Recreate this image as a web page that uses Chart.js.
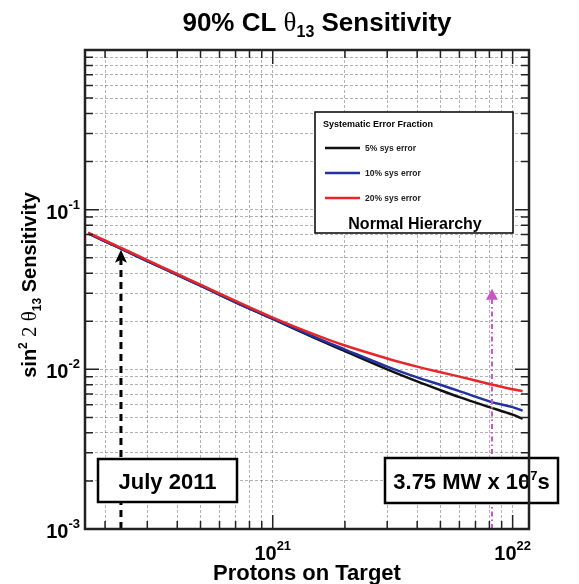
<!DOCTYPE html>
<html>
<head>
<meta charset="utf-8">
<script src="https://cdn.jsdelivr.net/npm/chart.js@4.4.0/dist/chart.umd.min.js"></script>
<style>
  html, body { margin: 0; padding: 0; background: #fff; }
</style>
</head>
<body>
<canvas id="sensChart" width="579" height="584"></canvas>
<script>
// protons on target (x) and 90% CL sin^2 2theta13 sensitivity for each systematic error
const pot = [1.7e20, 2e20, 2.5e20, 3e20, 4e20, 5e20, 7e20, 1e21, 1.5e21, 2e21, 3e21, 4e21, 5e21, 6e21, 8e21, 1e22, 1.1e22];
const sens5 = [0.0710, 0.0634, 0.0542, 0.0477, 0.0390, 0.0334, 0.0263, 0.0207, 0.0157, 0.0130, 0.0100, 0.0084, 0.0074, 0.0067, 0.0058, 0.0052, 0.0049];
const sens10 = [0.0710, 0.0634, 0.0542, 0.0477, 0.0390, 0.0334, 0.0263, 0.0208, 0.0159, 0.0133, 0.0104, 0.0089, 0.0080, 0.0073, 0.0063, 0.0058, 0.0055];
const sens20 = [0.0718, 0.0641, 0.0549, 0.0483, 0.0396, 0.0339, 0.0268, 0.0211, 0.0165, 0.0141, 0.0117, 0.0104, 0.0096, 0.0090, 0.0081, 0.0075, 0.0073];

const seriesNames = ['5% sys error', '10% sys error', '20% sys error'];
const seriesColors = ['#111111', '#2233a0', '#e8262a'];

// axis ranges and labelled decades
const xMin = 1.65e20, xMax = 1.17e22;
const yMin = 1e-3, yMax = 1;
const xDecades = [1e20, 1e21, 1e22];
const yDecades = [1e-3, 1e-2, 1e-1];
const mantissas = [1, 2, 3, 4, 5, 6, 7, 8, 9];
const xLabelValues = [1e21, 1e22];
const xLabelExps = ['21', '22'];
const yLabelValues = [1e-3, 1e-2, 1e-1];
const yLabelExps = ['-3', '-2', '-1'];

// markers: data so far and the full run
const julyPot = 2.33e20, julyTip = 0.056;
const fullPot = 8.2e21, fullTip = 0.032;

function gridValues(decades, lo, hi) {
  const out = [];
  decades.forEach(d => mantissas.forEach(m => {
    const v = m * d;
    if (v >= lo * 0.999 && v <= hi * 1.001) out.push(v);
  }));
  return out;
}
const xGrid = gridValues(xDecades, xMin, xMax);
const yGrid = gridValues(yDecades.concat([1]), yMin, yMax);

function isMajor(v) {
  const e = Math.log10(v);
  return Math.abs(e - Math.round(e)) < 1e-6;
}

const BOLD = 'Liberation Sans, Arial, sans-serif';
const SERIF = 'Liberation Serif, Times New Roman, serif';

// draws a run of [text, font, dy] pieces starting at x, returns end x
function drawRun(ctx, pieces, x, y) {
  pieces.forEach(p => {
    ctx.font = p[1];
    ctx.fillText(p[0], x, y + (p[2] || 0));
    x += ctx.measureText(p[0]).width;
  });
  return x;
}
function runWidth(ctx, pieces) {
  let w = 0;
  pieces.forEach(p => { ctx.font = p[1]; w += ctx.measureText(p[0]).width; });
  return w;
}

const decorations = {
  id: 'decorations',
  afterDatasetsDraw(chart) {
    const { ctx, chartArea: a, scales: { x, y } } = chart;
    ctx.save();

    // July 2011 arrow (black dashed)
    const jx = x.getPixelForValue(julyPot);
    const jt = y.getPixelForValue(julyTip);
    ctx.strokeStyle = '#000';
    ctx.lineWidth = 3;
    ctx.setLineDash([7, 5]);
    ctx.beginPath();
    ctx.moveTo(jx, a.bottom);
    ctx.lineTo(jx, jt + 10);
    ctx.stroke();
    ctx.setLineDash([]);
    ctx.fillStyle = '#000';
    ctx.beginPath();
    ctx.moveTo(jx, jt);
    ctx.lineTo(jx + 6, jt + 13);
    ctx.lineTo(jx, jt + 10);
    ctx.lineTo(jx - 6, jt + 13);
    ctx.closePath();
    ctx.fill();

    // full exposure arrow (magenta dash-dot)
    const fx = x.getPixelForValue(fullPot);
    const ft = y.getPixelForValue(fullTip);
    ctx.strokeStyle = '#c955c9';
    ctx.fillStyle = '#c955c9';
    ctx.lineWidth = 2;
    ctx.setLineDash([5, 3, 1.5, 3]);
    ctx.beginPath();
    ctx.moveTo(fx, a.bottom);
    ctx.lineTo(fx, ft + 10);
    ctx.stroke();
    ctx.setLineDash([]);
    ctx.beginPath();
    ctx.moveTo(fx, ft);
    ctx.lineTo(fx + 6, ft + 11);
    ctx.lineTo(fx - 6, ft + 11);
    ctx.closePath();
    ctx.fill();

    // text boxes
    ctx.fillStyle = '#fff';
    ctx.strokeStyle = '#000';
    ctx.lineWidth = 2.5;
    ctx.fillRect(98, 459, 139, 43);
    ctx.strokeRect(98, 459, 139, 43);
    ctx.fillRect(385, 458, 173, 45);
    ctx.strokeRect(385, 458, 173, 45);
    ctx.fillStyle = '#000';
    ctx.textBaseline = 'alphabetic';
    ctx.textAlign = 'left';
    let pcs = [['July 2011', 'bold 22px ' + BOLD]];
    drawRun(ctx, pcs, 167.5 - runWidth(ctx, pcs) / 2, 489);
    pcs = [['3.75 MW x 10', 'bold 22px ' + BOLD], ['7', 'bold 13px ' + BOLD, -9], ['s', 'bold 22px ' + BOLD]];
    drawRun(ctx, pcs, 471.5 - runWidth(ctx, pcs) / 2, 489);

    // legend
    ctx.fillStyle = '#fff';
    ctx.lineWidth = 1.5;
    ctx.fillRect(315, 112, 198, 121);
    ctx.strokeRect(315, 112, 198, 121);
    ctx.fillStyle = '#000';
    ctx.font = 'bold 9px ' + BOLD;
    ctx.fillText('Systematic Error Fraction', 323, 127);
    const rows = [148, 173, 198];
    seriesNames.forEach((name, i) => {
      ctx.strokeStyle = seriesColors[i];
      ctx.lineWidth = 2.5;
      ctx.beginPath();
      ctx.moveTo(325, rows[i]);
      ctx.lineTo(360, rows[i]);
      ctx.stroke();
      ctx.fillStyle = '#222';
      ctx.font = 'bold 8.5px ' + BOLD;
      ctx.fillText(name, 365, rows[i] + 3);
    });
    ctx.fillStyle = '#000';
    ctx.font = 'bold 16px ' + BOLD;
    ctx.textAlign = 'center';
    ctx.fillText('Normal Hierarchy', 415, 229);
    ctx.textAlign = 'left';

    // frame and inward ticks on all four sides
    ctx.strokeStyle = '#222';
    ctx.lineWidth = 1.5;
    xGrid.forEach(v => {
      const px = x.getPixelForValue(v);
      const len = isMajor(v) ? 14 : 8;
      ctx.beginPath();
      ctx.moveTo(px, a.bottom); ctx.lineTo(px, a.bottom - len);
      ctx.moveTo(px, a.top); ctx.lineTo(px, a.top + len);
      ctx.stroke();
    });
    yGrid.forEach(v => {
      const py = y.getPixelForValue(v);
      const len = isMajor(v) ? 14 : 8;
      ctx.beginPath();
      ctx.moveTo(a.left, py); ctx.lineTo(a.left + len, py);
      ctx.moveTo(a.right, py); ctx.lineTo(a.right - len, py);
      ctx.stroke();
    });
    ctx.lineWidth = 2.5;
    ctx.strokeStyle = '#222';
    ctx.strokeRect(a.left, a.top, a.right - a.left, a.bottom - a.top);

    // tick labels
    ctx.fillStyle = '#000';
    xLabelValues.forEach((v, i) => {
      const px = x.getPixelForValue(v);
      const p = [['10', 'bold 20px ' + BOLD], [xLabelExps[i], 'bold 13px ' + BOLD, -10]];
      drawRun(ctx, p, px - runWidth(ctx, p) / 2, 560);
    });
    yLabelValues.forEach((v, i) => {
      const py = y.getPixelForValue(v);
      const p = [['10', 'bold 20px ' + BOLD], [yLabelExps[i], 'bold 13px ' + BOLD, -10]];
      drawRun(ctx, p, a.left - 5 - runWidth(ctx, p), py + 9);
    });

    // axis titles
    pcs = [['Protons on Target', 'bold 22px ' + BOLD]];
    drawRun(ctx, pcs, (a.left + a.right) / 2 - runWidth(ctx, pcs) / 2, 580);

    ctx.save();
    ctx.translate(29, 285);
    ctx.rotate(-Math.PI / 2);
    pcs = [['sin', 'bold 20px ' + BOLD], ['2', 'bold 12px ' + BOLD, -9], [' 2 \u03b8', '21px ' + SERIF],
           ['13', 'bold 12px ' + BOLD, 5], [' Sensitivity', 'bold 20px ' + BOLD]];
    drawRun(ctx, pcs, -runWidth(ctx, pcs) / 2, 7);
    ctx.restore();

    // title
    pcs = [['90% CL ', 'bold 26px ' + BOLD], ['\u03b8', '27px ' + SERIF], ['13', 'bold 16px ' + BOLD, 6],
           [' Sensitivity', 'bold 26px ' + BOLD]];
    drawRun(ctx, pcs, 317 - runWidth(ctx, pcs) / 2, 31);

    ctx.restore();
  }
};

const toPoints = vals => pot.map((p, i) => ({ x: p, y: vals[i] }));
const series = [sens5, sens10, sens20];

new Chart(document.getElementById('sensChart'), {
  type: 'line',
  data: {
    datasets: series.map((vals, i) => ({
      label: seriesNames[i],
      data: toPoints(vals),
      borderColor: seriesColors[i],
      borderWidth: 2.5,
      pointRadius: 0,
      tension: 0.35,
      fill: false,
      order: 2 - i,
    })),
  },
  options: {
    responsive: false,
    maintainAspectRatio: false,
    animation: false,
    devicePixelRatio: 1,
    layout: { padding: { left: 85, right: 50, top: 50, bottom: 55 } },
    plugins: { legend: { display: false }, tooltip: { enabled: false } },
    scales: {
      x: {
        type: 'logarithmic',
        min: xMin,
        max: xMax,
        ticks: { display: false },
        grid: { color: 'rgba(0,0,0,0.3)', lineWidth: 1, drawTicks: false },
        border: { display: false, dash: [3, 2] },
        afterBuildTicks: (s) => { s.ticks = xGrid.map(v => ({ value: v })); },
        afterFit: (s) => { s.height = 0; },
      },
      y: {
        type: 'logarithmic',
        min: yMin,
        max: yMax,
        ticks: { display: false },
        grid: { color: 'rgba(0,0,0,0.3)', lineWidth: 1, drawTicks: false },
        border: { display: false, dash: [3, 2] },
        afterBuildTicks: (s) => { s.ticks = yGrid.map(v => ({ value: v })); },
        afterFit: (s) => { s.width = 0; },
      },
    },
  },
  plugins: [decorations],
});
</script>
</body>
</html>
